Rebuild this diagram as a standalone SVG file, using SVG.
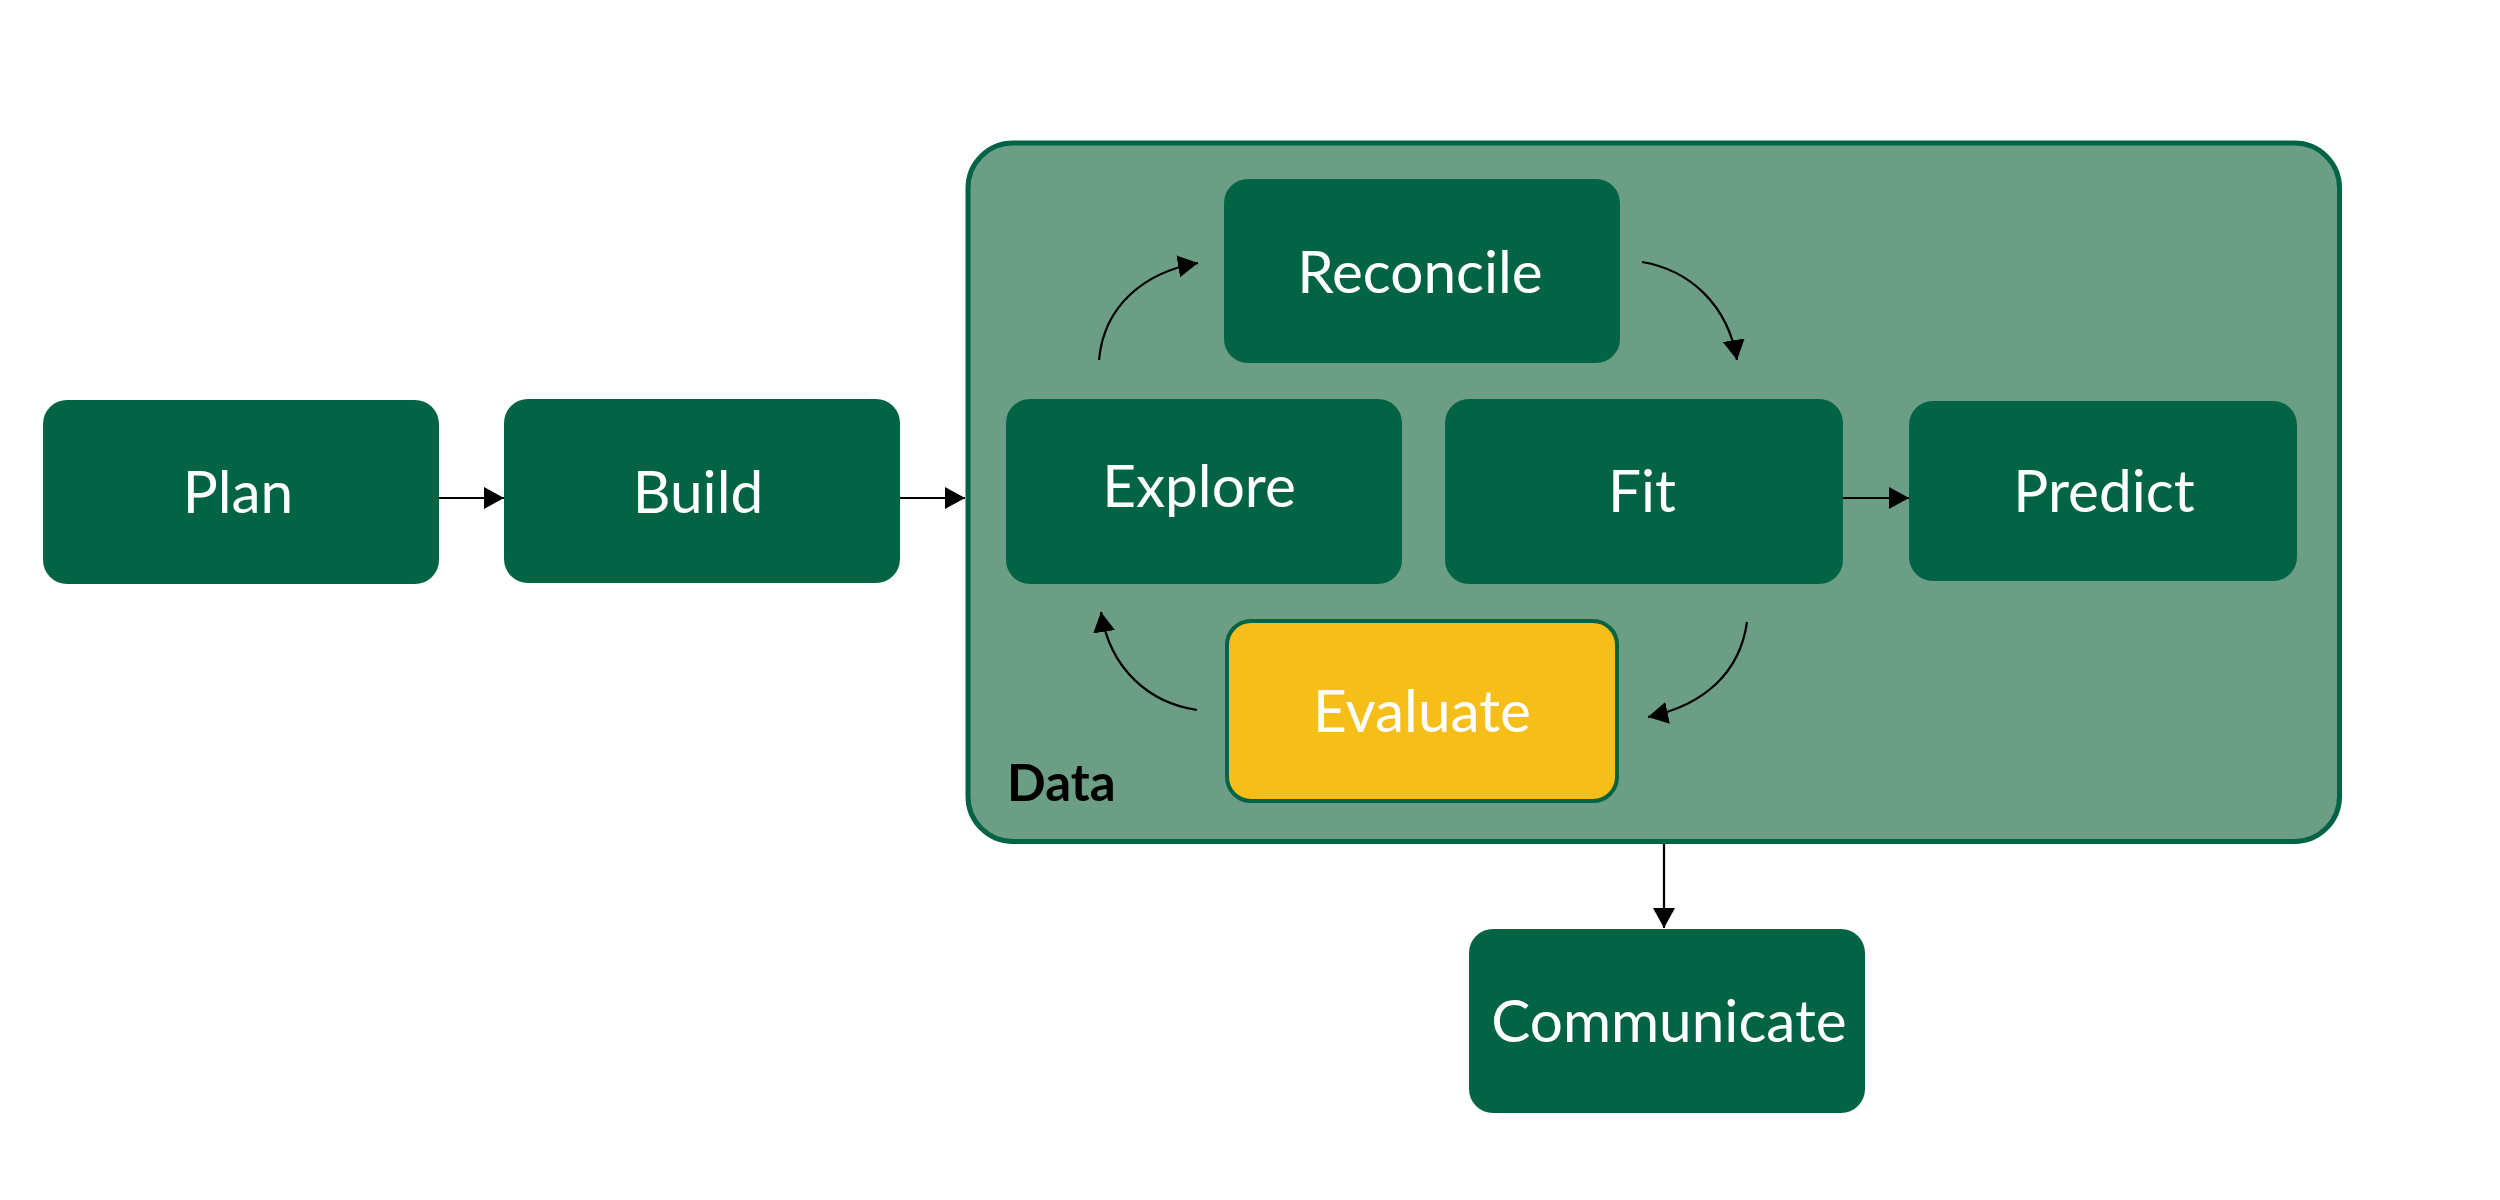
<svg xmlns="http://www.w3.org/2000/svg" width="2500" height="1200" viewBox="0 0 2500 1200">
<defs>
<style>
.box{fill:#036445;}
.lbl{fill:#ffffff;font-family:Lato,"Liberation Sans",sans-serif;font-size:58.5px;text-anchor:middle;}
.conn{fill:none;stroke:#000;stroke-width:2.2;}
</style>
<marker id="ah" markerWidth="20" markerHeight="22" refX="20" refY="11" orient="auto" markerUnits="userSpaceOnUse">
<path d="M0,0 L20,11 L0,22 Z" fill="#000"/>
</marker>
</defs>
<rect width="2500" height="1200" fill="#ffffff"/>
<g id="data">
<rect x="968" y="143" width="1371.5" height="698.5" rx="45" ry="45" fill="#6b9e85" stroke="#036445" stroke-width="5"/>
<text x="1007" y="801" font-family="Lato,'Liberation Sans',sans-serif" font-size="51" font-weight="bold" fill="#000">Data</text>
</g>
<g id="plan"><rect class="box" x="43" y="400" width="396" height="184" rx="24"/><text class="lbl" x="238" y="513">Plan</text></g>
<g id="build"><rect class="box" x="504" y="399" width="396" height="184" rx="24"/><text class="lbl" x="698" y="513">Build</text></g>
<g id="explore"><rect class="box" x="1006" y="399" width="396" height="185" rx="24"/><text class="lbl" x="1199" y="507">Explore</text></g>
<g id="fit"><rect class="box" x="1445" y="399" width="398" height="185" rx="24"/><text class="lbl" x="1642" y="512">Fit</text></g>
<g id="predict"><rect class="box" x="1909" y="401" width="388" height="180" rx="24"/><text class="lbl" x="2104" y="512">Predict</text></g>
<g id="reconcile"><rect class="box" x="1224" y="179" width="396" height="184" rx="24"/><text class="lbl" x="1420" y="293">Reconcile</text></g>
<g id="evaluate"><rect x="1227" y="621" width="390" height="180" rx="24" fill="#f5be18" stroke="#036445" stroke-width="4"/><text class="lbl" x="1422" y="732">Evaluate</text></g>
<g id="communicate"><rect class="box" x="1469" y="929" width="396" height="184" rx="24"/><text class="lbl" x="1669" y="1042">Communicate</text></g>
<g id="connectors">
<path class="conn" d="M439,498 L504,498" marker-end="url(#ah)"/>
<path class="conn" d="M900,498 L965,498" marker-end="url(#ah)"/>
<path class="conn" d="M1843,498 L1909,498" marker-end="url(#ah)"/>
<path class="conn" d="M1664,844 L1664,928" marker-end="url(#ah)"/>
<path class="conn" d="M1099,360 C1104,305 1145,272 1198,263" marker-end="url(#ah)"/>
<path class="conn" d="M1642,262 C1690,270 1728,305 1737,360" marker-end="url(#ah)"/>
<path class="conn" d="M1747,622 C1740,672 1705,705 1648,717" marker-end="url(#ah)"/>
<path class="conn" d="M1197,710 C1150,703 1110,670 1101,612" marker-end="url(#ah)"/>
</g>
</svg>
